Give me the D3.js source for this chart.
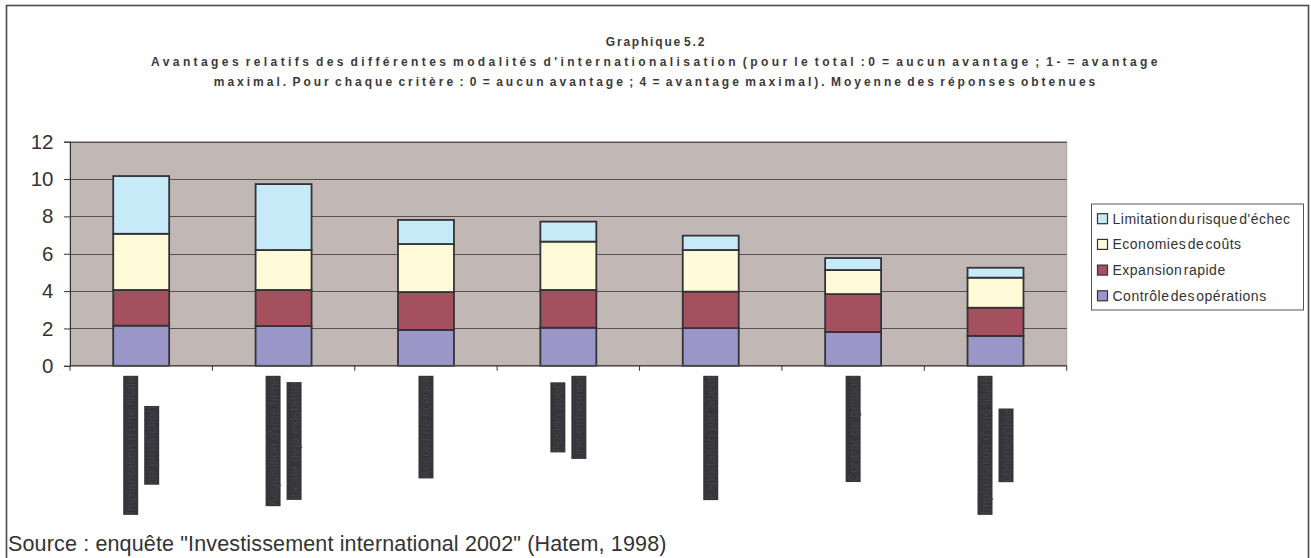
<!DOCTYPE html>
<html>
<head>
<meta charset="utf-8">
<script src="https://cdn.jsdelivr.net/npm/d3@7"></script>
<style>
  html, body { margin: 0; padding: 0; background: #ffffff; }
  svg { display: block; }
  text { font-family: "Liberation Sans", Arial, sans-serif; }
</style>
</head>
<body>
<svg id="chart" width="1311" height="558"></svg>
<script>
// Modes of internationalisation (one stacked bar each), label lines split for the rotated axis labels
const categories = [
  ["Implantation d'une filiale", "de production"],
  ["Acquisition d'une firme", "locale déjà existante"],
  ["Accord de licence"],
  ["Fusion avec", "une entreprise"],
  ["Exportation par agent"],
  ["Contrat de gestion"],
  ["Implantation d'une filiale", "commerciale"]
];

// Mean scores per criterion, stacked from bottom to top
const controle   = [2.15, 2.13, 1.92, 2.04, 2.02, 1.81, 1.60];
const expansion  = [1.91, 1.93, 2.03, 2.02, 1.95, 2.03, 1.51];
const economies  = [3.01, 2.14, 2.57, 2.59, 2.23, 1.29, 1.61];
const limitation = [3.09, 3.53, 1.29, 1.07, 0.77, 0.64, 0.53];

const seriesNames = [
  "Contrôle des opérations",
  "Expansion rapide",
  "Economies de coûts",
  "Limitation du risque d'échec"
];
const seriesColors = ["#9b96c8", "#a5505f", "#fffad7", "#c6eaf8"];

const yTicks = [0, 2, 4, 6, 8, 10, 12];

const titleLines = [
  "Graphique 5.2",
  "Avantages relatifs des différentes modalités d'internationalisation (pour le total :0 = aucun avantage ; 1- = avantage",
  "maximal. Pour chaque critère : 0 = aucun avantage ; 4 = avantage maximal). Moyenne des réponses obtenues"
];
const sourceText = "Source : enquête \"Investissement international 2002\" (Hatem, 1998)";

// ---- layout ----
const svg = d3.select("#chart");
const plot = { left: 70, right: 1066.7, top: 141.7, bottom: 365.8 };

// outer frame
svg.append("rect")
  .attr("x", 6.5).attr("y", 5.5)
  .attr("width", 1302).attr("height", 570)
  .attr("fill", "none").attr("stroke", "#4a4a4a").attr("stroke-width", 1.6);

// title
svg.append("g").selectAll("text")
  .data(titleLines)
  .join("text")
  .attr("x", 656)
  .attr("y", (d, i) => 45.5 + i * 20.3)
  .attr("text-anchor", "middle")
  .attr("font-size", 12)
  .attr("font-weight", "bold")
  .attr("letter-spacing", (d, i) => i === 0 ? 1.8 : (i === 1 ? 3.4 : 3.0))
  .attr("word-spacing", -3)
  .attr("fill", "#3a3a3a")
  .text(d => d);

const keys = categories.map((c, i) => i);

const x = d3.scaleBand()
  .domain(keys)
  .range([plot.left, plot.right])
  .paddingInner(0.607)
  .paddingOuter(0.607 / 2);

const y = d3.scaleLinear()
  .domain([0, 12])
  .range([plot.bottom, plot.top]);

// plot background
svg.append("rect")
  .attr("x", plot.left).attr("y", plot.top)
  .attr("width", plot.right - plot.left).attr("height", plot.bottom - plot.top)
  .attr("fill", "#c1b8b6")
  .attr("stroke", "#a8a09e").attr("stroke-width", 1);

// gridlines
svg.append("g").selectAll("line")
  .data(yTicks.filter(t => t > 0))
  .join("line")
  .attr("x1", plot.left).attr("x2", plot.right)
  .attr("y1", d => Math.round(y(d)) + 0.5).attr("y2", d => Math.round(y(d)) + 0.5)
  .attr("stroke", "#57524f").attr("stroke-width", 1);

// stacked bars
const rows = keys.map(i => ({
  key: i,
  s0: controle[i], s1: expansion[i], s2: economies[i], s3: limitation[i]
}));
const stack = d3.stack().keys(["s0", "s1", "s2", "s3"]);
const layers = stack(rows);

svg.append("g").selectAll("g")
  .data(layers)
  .join("g")
  .attr("fill", (d, i) => seriesColors[i])
  .selectAll("rect")
  .data(d => d)
  .join("rect")
  .attr("x", d => x(d.data.key))
  .attr("width", x.bandwidth())
  .attr("y", d => y(d[1]))
  .attr("height", d => y(d[0]) - y(d[1]))
  .attr("stroke", "#333236")
  .attr("stroke-width", 1.8);

// y axis
const yAxis = svg.append("g")
  .attr("transform", `translate(${plot.left},0)`)
  .call(d3.axisLeft(y).tickValues(yTicks).tickSize(6).tickPadding(10.5).tickFormat(d3.format("d")));
yAxis.select(".domain").attr("stroke", "#333").attr("stroke-width", 1);
yAxis.selectAll(".tick line").attr("stroke", "#333");
yAxis.selectAll(".tick text")
  .attr("font-size", 20.5)
  .attr("fill", "#333")
  .attr("font-family", "'Liberation Sans', Arial, sans-serif");

// x axis: baseline with ticks at category boundaries
svg.append("line")
  .attr("x1", plot.left).attr("x2", plot.right)
  .attr("y1", plot.bottom).attr("y2", plot.bottom)
  .attr("stroke", "#4a4a4a").attr("stroke-width", 1.6);
const step = x.step();
svg.append("g").selectAll("line")
  .data(d3.range(categories.length + 1))
  .join("line")
  .attr("x1", d => plot.left + d * step).attr("x2", d => plot.left + d * step)
  .attr("y1", plot.bottom).attr("y2", plot.bottom + 5)
  .attr("stroke", "#333").attr("stroke-width", 1);

// rotated category labels, each line in a dark block
const labelTop = plot.bottom + 10;
const lineGap = 21;
const labelGroup = svg.append("g");
categories.forEach((lines, i) => {
  const cx = x(i) + x.bandwidth() / 2;
  const g = labelGroup.append("g");
  const items = lines.map((line, j) => {
    const lg = g.append("g");
    const r = lg.append("rect");
    const t = lg.append("text")
      .attr("text-anchor", "middle")
      .attr("dominant-baseline", "central")
      .attr("font-size", 13)
      .attr("fill", "#424147")
      .text(line);
    return { lg, r, t, len: t.node().getComputedTextLength(), j };
  });
  const maxLen = d3.max(items, d => d.len);
  const cy = labelTop + maxLen / 2;
  items.forEach(d => {
    const lx = cx + (d.j - (lines.length - 1) / 2) * lineGap;
    d.lg.attr("transform", `translate(${lx},${cy}) rotate(-90)`);
    d.r.attr("x", -d.len / 2).attr("y", -7.5)
      .attr("width", d.len).attr("height", 15)
      .attr("fill", "#36353a");
  });
});

// legend
const legend = svg.append("g").attr("transform", "translate(1091,203.5)");
legend.append("rect")
  .attr("x", 0.5).attr("y", 0.5)
  .attr("width", 212).attr("height", 106)
  .attr("fill", "#ffffff").attr("stroke", "#555").attr("stroke-width", 1);
const legendOrder = [3, 2, 1, 0];
const li = legend.selectAll("g.item")
  .data(legendOrder)
  .join("g")
  .attr("class", "item")
  .attr("transform", (d, k) => `translate(0,${15.2 + k * 25.7})`);
li.append("rect")
  .attr("x", 6.5).attr("y", -5)
  .attr("width", 10).attr("height", 10)
  .attr("fill", d => seriesColors[d])
  .attr("stroke", "#333").attr("stroke-width", 1.2);
li.append("text")
  .attr("x", 21.5).attr("y", 0)
  .attr("dominant-baseline", "central")
  .attr("font-size", 14)
  .attr("letter-spacing", 0.5)
  .attr("word-spacing", -3)
  .attr("fill", "#333")
  .text(d => seriesNames[d]);

// source note
svg.append("text")
  .attr("x", 8).attr("y", 551)
  .attr("font-size", 21.5)
  .attr("letter-spacing", 0.15)
  .attr("fill", "#333")
  .text(sourceText);
</script>
</body>
</html>
